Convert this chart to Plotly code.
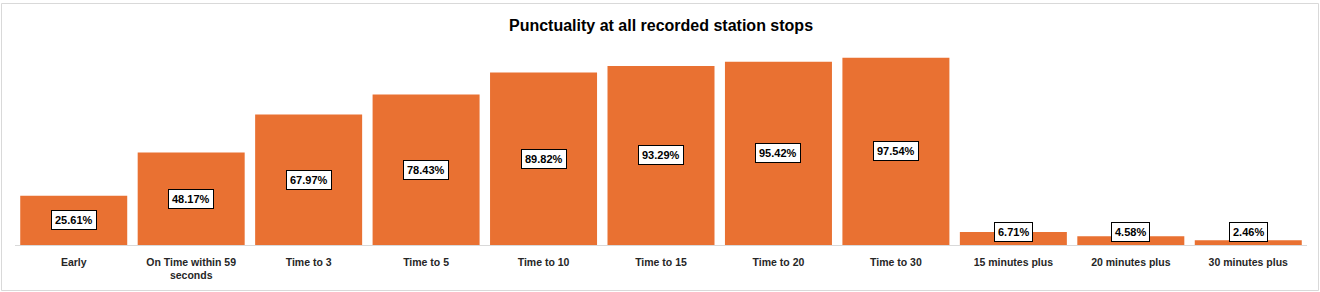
import plotly.graph_objects as go

categories = ["Early", "On Time within 59<br>seconds", "Time to 3", "Time to 5", "Time to 10",
              "Time to 15", "Time to 20", "Time to 30", "15 minutes plus", "20 minutes plus",
              "30 minutes plus"]
values = [25.61, 48.17, 67.97, 78.43, 89.82, 93.29, 95.42, 97.54, 6.71, 4.58, 2.46]
labels = ["25.61%", "48.17%", "67.97%", "78.43%", "89.82%", "93.29%", "95.42%", "97.54%",
          "6.71%", "4.58%", "2.46%"]

W, H = 1320, 292
ml, mr, mt, mb = 15, 13, 53, 47
pw, ph = W - ml - mr, H - mt - mb

fig = go.Figure(go.Bar(x=categories, y=values, marker_color="#E97132",
                       marker_line_width=0, hoverinfo="skip"))

for c, v, t in zip(categories, values, labels):
    fig.add_annotation(x=c, y=max(v / 2, 6.8), text="<b>" + t + "</b>", showarrow=False,
                       xref="x", yref="y", bgcolor="white", bordercolor="black",
                       borderwidth=1, borderpad=3,
                       font=dict(family="Liberation Sans, Arial", size=11, color="#000"))

# outer chart border
fig.add_shape(type="rect", xref="paper", yref="paper",
              x0=(1.5 - ml) / pw, x1=(1318.5 - ml) / pw,
              y0=(H - mb - 290.5) / ph, y1=(H - mb - 3.5) / ph,
              line=dict(color="#D9D9D9", width=1), layer="below")

fig.update_layout(
    width=W, height=H,
    margin=dict(l=ml, r=mr, t=mt, b=mb),
    paper_bgcolor="white", plot_bgcolor="white",
    bargap=0.089,
    showlegend=False,
    title=dict(text="<b>Punctuality at all recorded station stops</b>", x=0.5, xref="paper",
               xanchor="center", y=(H - 25) / H, yanchor="middle",
               font=dict(family="Liberation Sans, Arial", size=16, color="#000")),
    xaxis=dict(showline=True, linecolor="#D9D9D9", linewidth=1, ticks="",
               ticklabelstandoff=7,
               tickfont=dict(family="Liberation Sans, Arial", size=10.5, color="#262626"),
               showgrid=False, zeroline=False, fixedrange=True, tickangle=0),
    yaxis=dict(range=[0, 100], visible=False, showgrid=False, zeroline=False, fixedrange=True),
)
fig.update_xaxes(tickprefix="<b>", ticksuffix="</b>")

fig.write_html("out.html")
